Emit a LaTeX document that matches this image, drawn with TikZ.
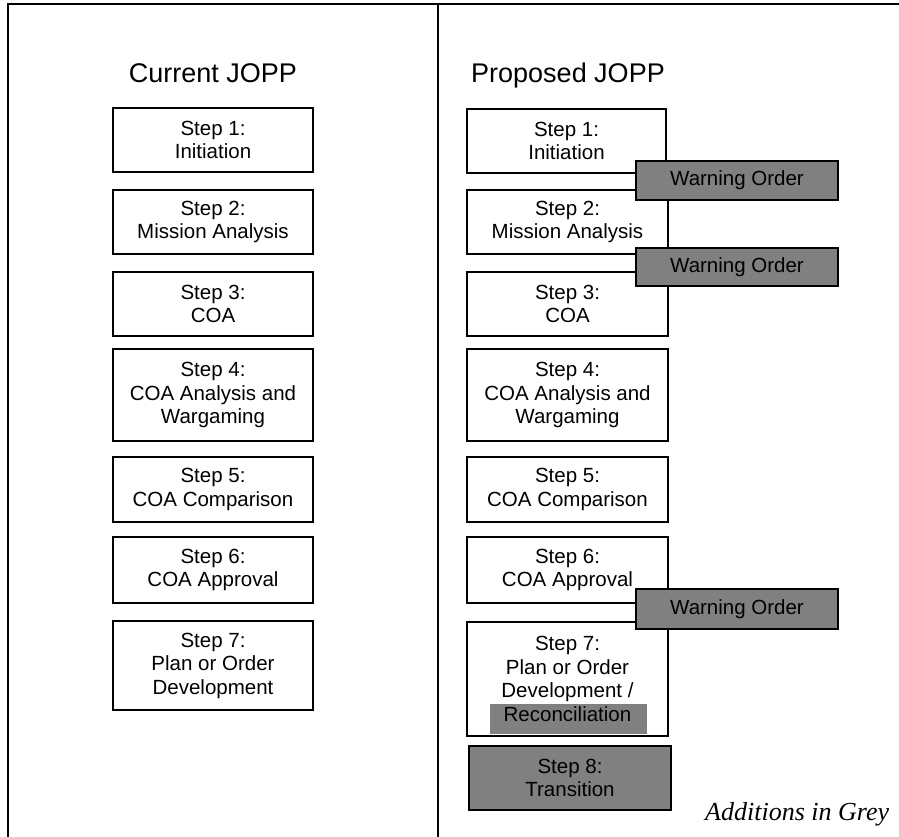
\documentclass[tikz,border=0pt]{standalone}
\usepackage{fontspec}
\setmainfont{Liberation Sans}
\newfontfamily\timesit{Liberation Serif}
\definecolor{addgrey}{RGB}{128,128,128}
\begin{document}
\begin{tikzpicture}[x=1pt,y=-1pt,
  boxtext/.style={font=\fontsize{20.5}{23.5}\selectfont, align=center, text=black},
  stepbox/.style={boxtext, draw=black, line width=2pt, rectangle, inner sep=0pt, minimum width=200pt},
  warnbox/.style={stepbox, fill=addgrey, minimum width=202pt},
  title/.style={font=\fontsize{27}{30}\selectfont, anchor=base}
]
\useasboundingbox (0,0) rectangle (899,837);
% frame
\coordinate (ftl) at (8,4);
\coordinate (fbl) at (8,837);
\coordinate (ftr) at (899,4);
\coordinate (dt) at (438,4);
\coordinate (db) at (438,837);
\draw[line width=1.5pt] (fbl) -- (ftl) -- (ftr);
\draw[line width=1.5pt] (dt) -- (db);
% titles
\node[title] (tcur) at (213,83) {Current JOPP};
\node[title] (tpro) at (568,83) {Proposed JOPP};
% current column
\node[stepbox, minimum height=64pt] (l1) at (213,140) {Step 1:\\Initiation};
\node[stepbox, minimum height=64pt] (l2) at (213,222) {Step 2:\\Mission Analysis};
\node[stepbox, minimum height=64pt] (l3) at (213,304) {Step 3:\\COA};
\node[stepbox, minimum height=92pt] (l4) at (213,395) {Step 4:\\COA Analysis and\\Wargaming};
\node[stepbox, minimum height=65pt] (l5) at (213,489.5) {Step 5:\\COA Comparison};
\node[stepbox, minimum height=66pt] (l6) at (213,570) {Step 6:\\COA Approval};
\node[stepbox, minimum height=89pt] (l7) at (213,665.5) {Step 7:\\Plan or Order\\Development};
% proposed column
\node[stepbox, minimum width=199pt, minimum height=64pt] (r1) at (566.5,141) {Step 1:\\Initiation};
\node[stepbox, minimum width=201pt, minimum height=64pt] (r2) at (567.5,222) {Step 2:\\Mission Analysis};
\node[stepbox, minimum width=201pt, minimum height=64pt] (r3) at (567.5,304) {Step 3:\\COA};
\node[stepbox, minimum width=201pt, minimum height=92pt] (r4) at (567.5,395) {Step 4:\\COA Analysis and\\Wargaming};
\node[stepbox, minimum width=201pt, minimum height=65pt] (r5) at (567.5,489.5) {Step 5:\\COA Comparison};
\node[stepbox, minimum width=201pt, minimum height=66pt] (r6) at (567.5,570) {Step 6:\\COA Approval};
\fill[addgrey] (490,704) rectangle (647,734);
\node[stepbox, minimum width=201pt, minimum height=114pt] (r7) at (567.5,679) {Step 7:\\Plan or Order\\Development /\\Reconciliation};
\node[stepbox, fill=addgrey, minimum width=202pt, minimum height=64pt] (r8) at (570,778) {Step 8:\\Transition};
% warning orders
\node[warnbox, minimum height=39pt] (w1) at (737,180.5) {Warning Order};
\node[warnbox, minimum height=38pt] (w2) at (737,267) {Warning Order};
\node[warnbox, minimum height=40pt] (w3) at (737,609) {Warning Order};
% note
\node[font=\timesit\itshape\fontsize{26}{28}\selectfont, anchor=base west, inner sep=0pt] (note) at (705,820) {Additions in Grey};
\end{tikzpicture}
\end{document}
